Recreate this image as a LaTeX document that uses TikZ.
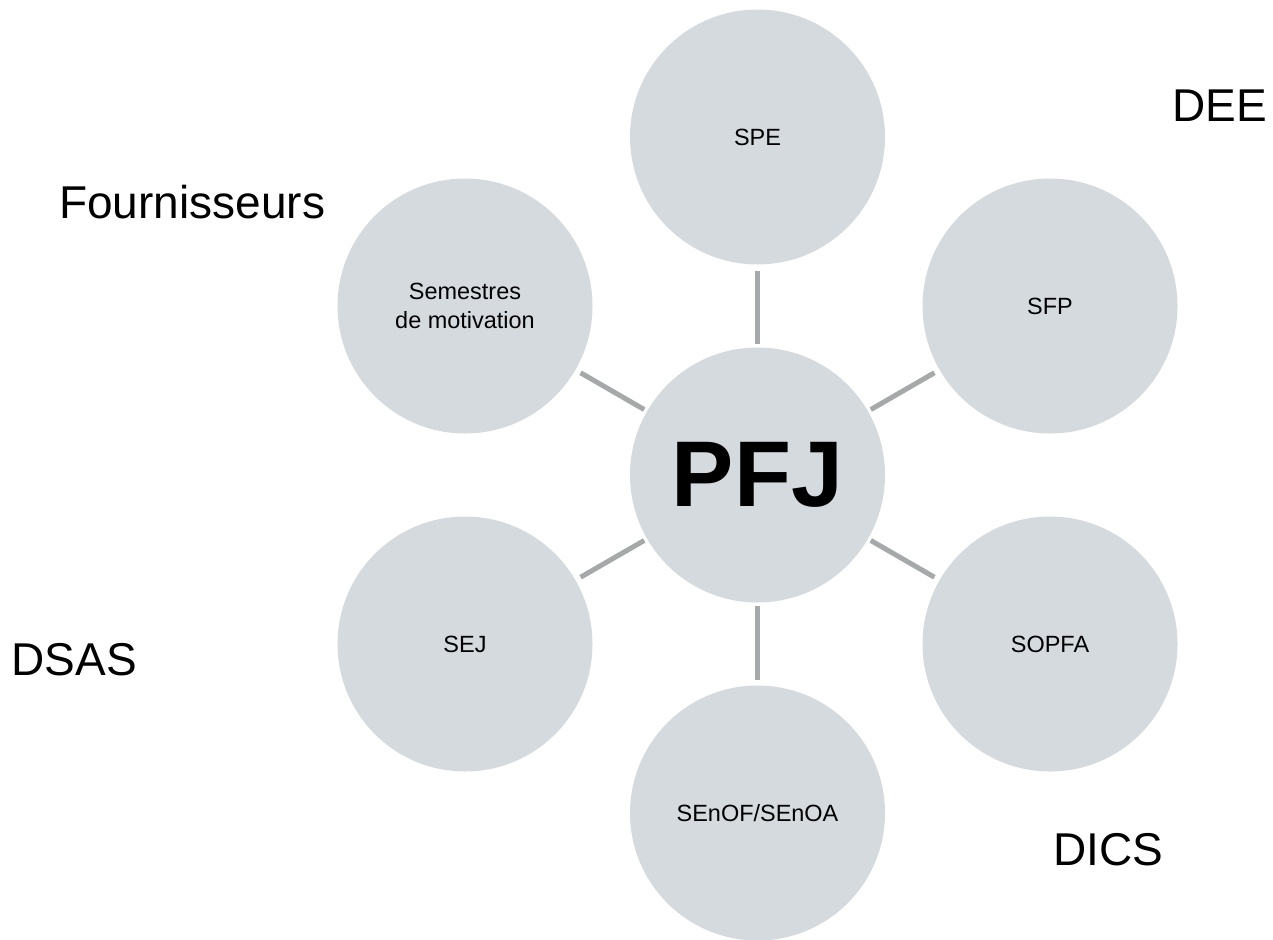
\documentclass[tikz,border=0pt]{standalone}
\usepackage{fontspec}
\setmainfont{Liberation Sans}
\definecolor{circfill}{HTML}{D5DADE}
\definecolor{linkgray}{HTML}{A5A9AA}
\begin{document}
\begin{tikzpicture}[x=0.75pt,y=-0.75pt,
  sat/.style={circle,fill=circfill,draw=none,minimum size=191.25pt,inner sep=0pt,outer sep=0pt,
    align=center,font=\fontsize{17.6pt}{21.75pt}\selectfont},
  hub/.style={sat,font=\fontsize{70pt}{80pt}\selectfont\bfseries},
  link/.style={draw=linkgray,line width=3.75pt,shorten <=2.5pt,shorten >=4.5pt},
  lbl/.style={anchor=base west,inner sep=0pt,font=\fontsize{34.5pt}{41pt}\selectfont}]
\clip (0,0) rectangle (1273,939);
\useasboundingbox (0,0) rectangle (1273,939);
\node[hub] (pfj) at (757.5,475) {PFJ};
\node[sat] (spe) at (757.5,137) {SPE};
\node[sat] (sfp) at (1050,306) {SFP};
\node[sat] (sopfa) at (1050,644) {SOPFA};
\node[sat] (senof) at (757.5,813) {SEnOF/SEnOA};
\node[sat] (sej) at (465,644) {SEJ};
\node[sat] (sem) at (465,306) {Semestres\\de motivation};
\foreach \n in {spe,sfp,sopfa,senof,sej,sem}
  \draw[link] (pfj) -- (\n);
\node[lbl] (dee) at (1172,121) {DEE};
\node[lbl] (four) at (59,218) {Fournisseurs};
\node[lbl] (dsas) at (11.5,675) {DSAS};
\node[lbl] (dics) at (1053,865) {DICS};
\end{tikzpicture}
\end{document}
